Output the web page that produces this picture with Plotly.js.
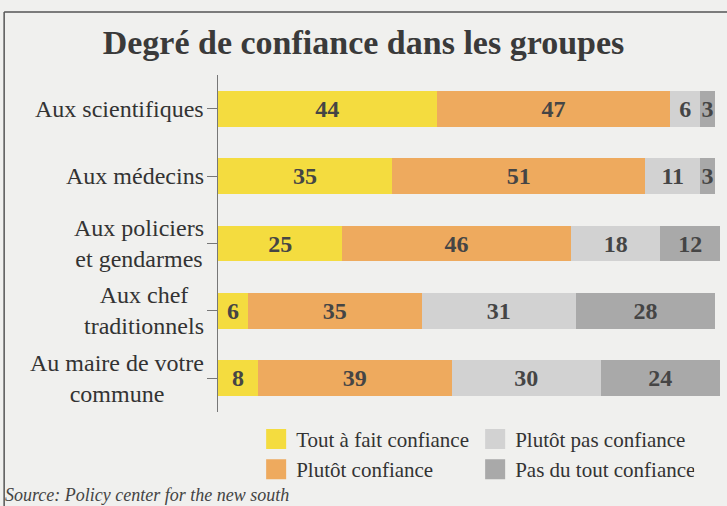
<!DOCTYPE html>
<html>
<head>
<meta charset="utf-8">
<script src="https://cdn.plot.ly/plotly-3.0.1.min.js"></script>
<style>
  html, body { margin: 0; padding: 0; background: #f0f0ee; }
  #chart { width: 727px; height: 506px; }
</style>
</head>
<body>
<div id="chart"></div>
<script>
const categories = ["Aux scientifiques", "Aux médecins", "Aux policiers<br>et gendarmes", "Aux chef<br>traditionnels", "Au maire de votre<br>commune"];
const seriesNames = ["Tout à fait confiance", "Plutôt confiance", "Plutôt pas confiance", "Pas du tout confiance"];
const toutAFait = [44, 35, 25, 6, 8];
const plutot = [47, 51, 46, 35, 39];
const plutotPas = [6, 11, 18, 31, 30];
const pasDuTout = [3, 3, 12, 28, 24];
const colors = ["#f4dc3f", "#eeaa5e", "#d2d2d2", "#a9a9a9"];
const legendRanks = [1, 3, 2, 4];

const seriesValues = [toutAFait, plutot, plutotPas, pasDuTout];
const ids = categories.map((c, i) => i);
const serif = "Liberation Serif, Times New Roman, serif";

const traces = seriesValues.map((vals, k) => ({
  type: "bar",
  orientation: "h",
  name: seriesNames[k],
  x: vals,
  y: ids,
  text: vals.map(String),
  textposition: "inside",
  insidetextanchor: "middle",
  constraintext: "none",
  textangle: 0,
  textfont: { family: serif, size: 24, color: "#454545", weight: "bold" },
  marker: { color: colors[k], line: { width: 0 } },
  width: 0.53,
  legendrank: legendRanks[k],
  hoverinfo: "skip"
}));

const annotations = categories.map((c, i) => ({
  xref: "paper", yref: "y",
  x: -0.024, y: i,
  xanchor: "right", yanchor: "middle",
  align: "center",
  text: c,
  showarrow: false,
  font: { family: serif, size: 24, color: "#333" }
}));
annotations.push({
  xref: "paper", yref: "paper",
  x: -0.428, y: -0.245,
  xanchor: "left", yanchor: "middle",
  text: "<i>Source: Policy center for the new south</i>",
  showarrow: false,
  font: { family: serif, size: 18, color: "#444" }
});

const layout = {
  width: 727, height: 506,
  margin: { l: 218, r: 7, t: 75, b: 94 },
  paper_bgcolor: "#f0f0ee",
  plot_bgcolor: "rgba(0,0,0,0)",
  barmode: "stack",
  title: {
    text: "<b>Degré de confiance dans les groupes</b>",
    font: { family: serif, size: 34, color: "#3a3a3a" },
    x: 0.5, xanchor: "center", y: 0.917, yanchor: "middle"
  },
  xaxis: {
    range: [0, 101],
    showgrid: false, zeroline: false, showticklabels: false, ticks: "", showline: false,
    fixedrange: true
  },
  yaxis: {
    tickmode: "array", tickvals: ids, ticktext: categories.map(() => ""),
    showgrid: false, zeroline: false,
    showline: true, linecolor: "#777", linewidth: 1,
    ticks: "outside", tickson: "boundaries", ticklen: 10, tickcolor: "#777", tickwidth: 1,
    range: [4.5, -0.5]
  },
  showlegend: true,
  legend: {
    orientation: "h",
    x: 0.076, xanchor: "left",
    y: -0.02, yanchor: "top",
    traceorder: "normal",
    entrywidth: 174, entrywidthmode: "pixels",
    font: { family: serif, size: 21, color: "#333" },
    bgcolor: "rgba(0,0,0,0)",
    itemwidth: 30,
    tracegroupgap: 0
  },
  shapes: [
    { type: "line", xref: "paper", yref: "paper", x0: -0.426, x1: 1.03, y0: 1.187, y1: 1.187, line: { color: "#555", width: 1.5 } },
    { type: "line", xref: "paper", yref: "paper", x0: -0.426, x1: -0.426, y0: 1.187, y1: -0.3, line: { color: "#555", width: 1.5 } }
  ],
  annotations: annotations
};

function enlargeSwatches() {
  document.querySelectorAll("#chart .legend .legendpoints path").forEach(p => {
    if ((p.getAttribute("d") || "").replace(/\s/g, "") === "M6,6H-6V-6H6Z") {
      p.setAttribute("d", "M10,10H-10V-10H10Z");
    }
  });
}

Plotly.newPlot("chart", traces, layout, { displayModeBar: false, staticPlot: true }).then(enlargeSwatches);
</script>
</body>
</html>
